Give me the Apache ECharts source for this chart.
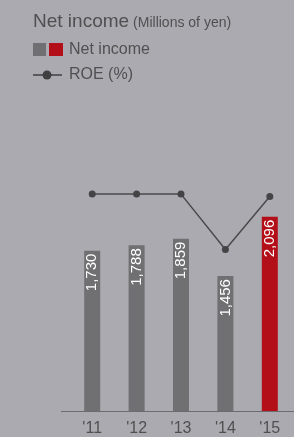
<!DOCTYPE html>
<html>
<head>
<meta charset="utf-8">
<script src="https://cdn.jsdelivr.net/npm/echarts@6/dist/echarts.min.js"></script>
<style>
  html, body { margin: 0; padding: 0; background: #abaab0; }
  #chart { width: 294px; height: 437px; }
</style>
</head>
<body>
<div id="chart"></div>
<script>
const years = ["'11", "'12", "'13", "'14", "'15"];
const netIncome = [1730, 1788, 1859, 1456, 2096];
const roe = [9.0, 9.0, 9.0, 6.7, 8.9];

const gray = '#707072';
const red = '#b20f18';
const textColor = '#505052';
const font = '"Liberation Sans", Arial, sans-serif';

const chart = echarts.init(document.getElementById('chart'));

const option = {
  backgroundColor: '#abaab0',
  animation: false,
  textStyle: { fontFamily: font },
  title: {
    left: 28,
    top: 7,
    text: '{a|Net income}{b|(Millions of yen)}',
    textStyle: {
      rich: {
        a: { fontSize: 19, color: textColor, fontFamily: font, fontWeight: 'normal' },
        b: { fontSize: 14, color: textColor, fontFamily: font, fontWeight: 'normal', padding: [3, 0, 0, 4] },
      },
    },
  },
  graphic: [
    { type: 'rect', shape: { x: 33, y: 43, width: 13, height: 13 }, style: { fill: gray } },
    { type: 'rect', shape: { x: 49, y: 43, width: 14, height: 13 }, style: { fill: red } },
    { type: 'text', x: 69, y: 49.5, style: { text: 'Net income', fill: textColor, font: '16px ' + font, verticalAlign: 'middle' } },
    { type: 'line', shape: { x1: 33, y1: 75, x2: 62, y2: 75 }, style: { stroke: '#3f3f42', lineWidth: 1.5 } },
    { type: 'circle', shape: { cx: 47, cy: 75, r: 4.5 }, style: { fill: '#3f3f42' } },
    { type: 'text', x: 69, y: 75, style: { text: 'ROE (%)', fill: textColor, font: '16px ' + font, verticalAlign: 'middle' } },
    { type: 'line', shape: { x1: 61, y1: 411.5, x2: 294, y2: 411.5 }, style: { stroke: '#6c6c70', lineWidth: 1 } },
  ],
  grid: { left: 70, right: 2, top: 170, bottom: 26 },
  xAxis: {
    type: 'category',
    data: years,
    axisLine: { show: false },
    axisTick: { show: false },
    axisLabel: { color: textColor, fontSize: 16, margin: 10, fontFamily: font },
  },
  yAxis: [
    { type: 'value', min: 0, max: 2600, show: false },
    { type: 'value', min: 0, max: 10, show: false },
  ],
  series: [
    {
      type: 'bar',
      data: netIncome,
      barWidth: 16,
      itemStyle: {
        color: (p) => (p.dataIndex === years.length - 1 ? red : gray),
      },
      label: {
        show: true,
        position: 'insideTop',
        rotate: 90,
        align: 'right',
        verticalAlign: 'middle',
        distance: 3,
        color: '#ffffff',
        fontSize: 15,
        fontFamily: font,
        formatter: (p) => p.value.toLocaleString('en-US'),
      },
      z: 2,
    },
    {
      type: 'line',
      yAxisIndex: 1,
      data: roe,
      symbol: 'circle',
      symbolSize: 7,
      itemStyle: { color: '#444447' },
      lineStyle: { color: '#4a4a4d', width: 1.5 },
      z: 3,
    },
  ],
};

chart.setOption(option);
</script>
</body>
</html>
